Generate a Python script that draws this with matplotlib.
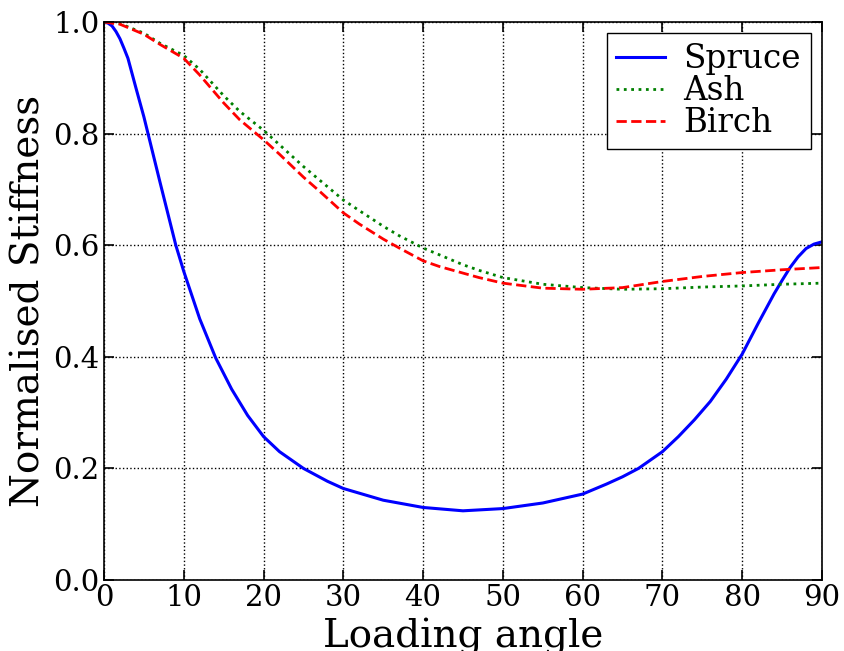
import matplotlib
matplotlib.use("Agg")
import matplotlib.pyplot as plt

angle_spruce = [0, 0.5, 1, 1.5, 2, 2.5, 3, 4, 5, 6, 7, 8, 9, 10, 12, 14, 16, 18, 20, 22,
                25, 28, 30, 35, 40, 45, 50, 55, 60, 63, 65, 67, 70, 72, 74, 76, 78, 80,
                82, 84, 85, 86, 87, 88, 89, 90]
spruce = [1.0, 0.998, 0.993, 0.983, 0.97, 0.953, 0.935, 0.882, 0.83, 0.772, 0.714, 0.657,
          0.60, 0.553, 0.468, 0.398, 0.342, 0.295, 0.257, 0.23,
          0.2, 0.177, 0.164, 0.143, 0.130, 0.124, 0.128, 0.138, 0.154, 0.172, 0.185,
          0.2, 0.23, 0.257, 0.287, 0.320, 0.36, 0.405, 0.46, 0.513, 0.537, 0.56, 0.579,
          0.594, 0.602, 0.606]

angle_hw = [0, 2, 5, 7, 10, 12, 15, 17, 20, 22, 25, 27, 30, 32, 35, 37, 40, 42, 45, 47,
            50, 55, 60, 65, 70, 75, 80, 85, 90]
ash = [1.0, 0.997, 0.98, 0.962, 0.94, 0.915, 0.868, 0.84, 0.806, 0.78, 0.741, 0.717,
       0.681, 0.662, 0.634, 0.617, 0.595, 0.583, 0.565, 0.555,
       0.542, 0.530, 0.524, 0.521, 0.522, 0.525, 0.527, 0.53, 0.532]
birch = [1.0, 0.996, 0.978, 0.96, 0.935, 0.905, 0.855, 0.825, 0.789, 0.763, 0.722, 0.697,
         0.658, 0.638, 0.611, 0.595, 0.572, 0.562, 0.550, 0.542,
         0.532, 0.523, 0.521, 0.524, 0.535, 0.544, 0.551, 0.556, 0.560]

xticks = [0, 10, 20, 30, 40, 50, 60, 70, 80, 90]
yticks = [0.0, 0.2, 0.4, 0.6, 0.8, 1.0]

plt.rcParams['font.family'] = ['DejaVu Serif']
plt.rcParams['mathtext.fontset'] = 'dejavuserif'

fig = plt.figure(figsize=(8.45, 6.51), dpi=100)
ax = fig.add_axes([104/845, 71/651, 718/845, 558/651])

ax.plot(angle_spruce, spruce, color='blue', lw=2.2, ls='-', label='Spruce')
ax.plot(angle_hw, ash, color='green', lw=2, ls=':', label='Ash')
ax.plot(angle_hw, birch, color='red', lw=2, ls='--', label='Birch')

ax.set_xlim(0, 90)
ax.set_ylim(0, 1.0)
ax.set_xticks(xticks)
ax.set_yticks(yticks)
ax.set_yticklabels([f"{v:.1f}" for v in yticks])
ax.tick_params(direction='in', top=True, right=True, length=7, width=1.2,
               labelsize=21, pad=3)
for s in ax.spines.values():
    s.set_linewidth(1.2)
ax.grid(True, color='black', ls=':', lw=1)

ax.set_xlabel('Loading angle', fontsize=28, labelpad=4)
ax.set_ylabel('Normalised Stiffness', fontsize=28, labelpad=4)

leg = ax.legend(loc='upper right', fontsize=23.5, fancybox=False, framealpha=1,
                edgecolor='black', handlelength=1.5, borderpad=0.3,
                labelspacing=0.0, handletextpad=0.55, borderaxespad=0.35)
leg.get_frame().set_linewidth(1.0)

fig.savefig('out.png', dpi=100)
